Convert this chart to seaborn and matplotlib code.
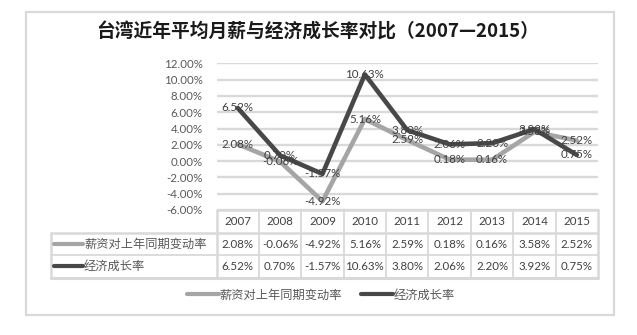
import numpy as np
import pandas as pd
import matplotlib
matplotlib.use("Agg")
import matplotlib.pyplot as plt
from matplotlib.lines import Line2D
import seaborn as sns

years = ["2007", "2008", "2009", "2010", "2011", "2012", "2013", "2014", "2015"]
wage_name = "薪资对上年同期变动率"
gdp_name = "经济成长率"
wage = [2.08, -0.06, -4.92, 5.16, 2.59, 0.18, 0.16, 3.58, 2.52]
gdp = [6.52, 0.70, -1.57, 10.63, 3.80, 2.06, 2.20, 3.92, 0.75]
yticks = [-6, -4, -2, 0, 2, 4, 6, 8, 10, 12]
title = "台湾近年平均月薪与经济成长率对比（2007—2015）"

sns.set_theme(style="white")
plt.rcParams["font.family"] = ["Lato", "Noto Sans CJK SC", "DejaVu Sans"]

W, H = 637, 335
fig = plt.figure(figsize=(W / 100, H / 100), dpi=100)

GRAY = "#A5A5A5"
DARK = "#484848"
GRID = "#D9D9D9"
TXT = "#404040"
NUM = 8.3

def fx(px):
    return px / W
def fy(py):
    return 1 - py / H

ov = fig.add_axes([0, 0, 1, 1], zorder=0)
ov.set_xlim(0, W)
ov.set_ylim(H, 0)
ov.axis("off")

# outer chart frame
ov.plot([26, 614, 614, 26, 26], [12, 12, 315, 315, 12], color=GRID, lw=1.6,
        solid_joinstyle="miter")

# main plot axes
x0, x1 = 216.5, 598.0
ytop, ybot = 63.3, 210.0
ax = fig.add_axes([fx(x0), fy(ybot), fx(x1) - fx(x0), (ybot - ytop) / H], zorder=2)
ax.patch.set_alpha(0)

df = pd.DataFrame({
    "year": years * 2,
    "value": wage + gdp,
    "series": [wage_name] * len(years) + [gdp_name] * len(years),
})
df["x"] = list(range(len(years))) * 2

sns.lineplot(data=df, x="x", y="value", hue="series", palette=[GRAY, DARK],
             hue_order=[wage_name, gdp_name], sort=False, lw=3.3, ax=ax,
             legend=False)

ax.set_xlim(-0.5, len(years) - 0.5)
ax.set_ylim(-6, 12)
ax.set_yticks(yticks)
ax.set_yticklabels([f"{v:.2f}%" for v in yticks], fontsize=NUM, color="#595959")
ax.set_xticks([])
ax.set_xlabel("")
ax.set_ylabel("")
for s in ax.spines.values():
    s.set_visible(False)
ax.tick_params(axis="y", length=0, pad=10)
for v in yticks:
    ax.axhline(v, color=GRID, lw=1.7, zorder=0)

# data labels centered on points
for i in range(len(years)):
    ax.text(i, wage[i], f"{wage[i]:.2f}%", ha="center", va="center",
            fontsize=NUM, color=TXT, zorder=5)
    ax.text(i, gdp[i], f"{gdp[i]:.2f}%", ha="center", va="center",
            fontsize=NUM, color=TXT, zorder=5)

# data table
colw = (x1 - x0) / len(years)
col_edges = [x0 + k * colw for k in range(len(years) + 1)]
t_top, r1, r2, t_bot = 210.0, 233.3, 255.0, 277.5
lab_left = 50.7
lw_in = 1.3
ov.plot([x0, x1], [t_top, t_top], color=GRID, lw=1.8)
for k, e in enumerate(col_edges):
    edge = k in (0, len(col_edges) - 1)
    ov.plot([e, e], [t_top, t_bot], color=GRID, lw=1.8 if edge else lw_in)
ov.plot([lab_left, x1], [r1, r1], color=GRID, lw=1.8)
ov.plot([lab_left, x1], [r2, r2], color=GRID, lw=lw_in)
ov.plot([lab_left, x1], [t_bot, t_bot], color=GRID, lw=2.2)
ov.plot([lab_left, lab_left], [r1, t_bot], color=GRID, lw=1.8)

for i, yr in enumerate(years):
    cx = x0 + (i + 0.5) * colw
    ov.text(cx, (t_top + r1) / 2, yr, ha="center", va="center", fontsize=NUM, color=TXT)
    ov.text(cx, (r1 + r2) / 2, f"{wage[i]:.2f}%", ha="center", va="center",
            fontsize=NUM, color=TXT)
    ov.text(cx, (r2 + t_bot) / 2, f"{gdp[i]:.2f}%", ha="center", va="center",
            fontsize=NUM, color=TXT)

for (yc, name, col) in [((r1 + r2) / 2, wage_name, GRAY), ((r2 + t_bot) / 2, gdp_name, DARK)]:
    ov.plot([54, 83], [yc, yc], color=col, lw=3.0, solid_capstyle="round")
    ov.text(84, yc, name, ha="left", va="center", fontsize=8.8, color="#595959",
            family=["Noto Sans CJK SC"])

# title
fig.text(fx(318), fy(32), title, ha="center", va="center", fontsize=13.5,
         fontweight="bold", color="#1a1a1a", family=["Noto Sans CJK SC"])

# legend
handles = [Line2D([0], [0], color=GRAY, lw=3.0), Line2D([0], [0], color=DARK, lw=3.0)]
leg = fig.legend(handles, [wage_name, gdp_name], loc="center",
                 bbox_to_anchor=(fx(321), fy(295)), ncol=2, frameon=False,
                 handlelength=2.6, handletextpad=0.05, columnspacing=1.6,
                 prop={"family": "Noto Sans CJK SC", "size": 8.8})
for t in leg.get_texts():
    t.set_color("#595959")

fig.savefig("out.png", dpi=100)
